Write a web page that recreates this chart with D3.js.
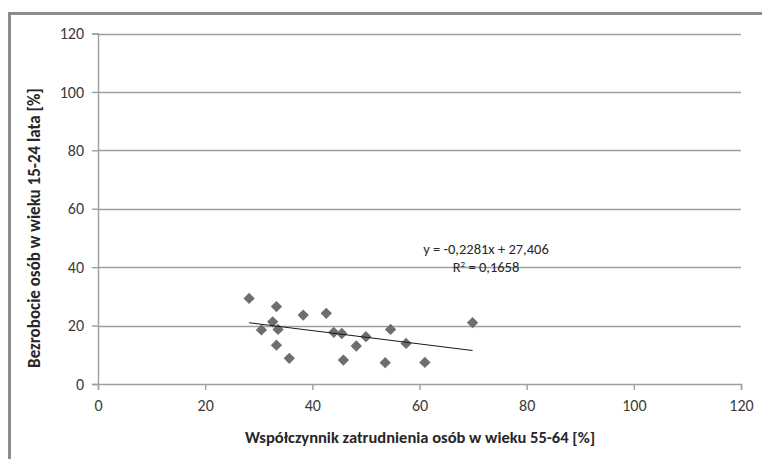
<!DOCTYPE html>
<html>
<head>
<meta charset="utf-8">
<script src="https://cdn.jsdelivr.net/npm/d3@7"></script>
<style>
  html, body { margin: 0; padding: 0; background: #fff; }
  svg { display: block; }
  text { font-family: Carlito, Calibri, Lato, "Open Sans", sans-serif; }
</style>
</head>
<body>
<svg id="chart" width="762" height="459"></svg>
<script>
// Employment rate 55-64 [%] (x) vs youth unemployment 15-24 [%] (y)
const employment55_64 = [28.2, 33.3, 38.3, 42.6, 32.6, 30.5, 33.6, 33.3, 35.7, 44.0, 45.5, 48.2, 45.8, 50.0, 54.6, 57.5, 53.6, 61.0, 69.9];
const unemployment15_24 = [29.3, 26.5, 23.6, 24.2, 21.3, 18.5, 18.7, 13.3, 8.8, 17.7, 17.3, 13.0, 8.2, 16.2, 18.7, 13.9, 7.3, 7.4, 21.0];

// Linear trend y = a*x + b and its fit
const trendSlope = -0.2281;
const trendIntercept = 27.406;
const rSquared = 0.1658;

const xTicks = [0, 20, 40, 60, 80, 100, 120];
const yTicks = [0, 20, 40, 60, 80, 100, 120];

const xTitle = "Współczynnik zatrudnienia osób w wieku 55-64 [%]";
const yTitle = "Bezrobocie osób w wieku 15-24 lata [%]";

const svg = d3.select("#chart");
const W = 762, H = 459;
const plot = { left: 98, right: 741, top: 33.5, bottom: 384 };

// outer frame (only top and left edges fall inside the view)
svg.append("rect")
  .attr("x", 9.5).attr("y", 13.5)
  .attr("width", W + 20).attr("height", H + 20)
  .attr("fill", "#fff")
  .attr("stroke", "#8c8c8c").attr("stroke-width", 3);

const x = d3.scaleLinear().domain([0, 120]).range([plot.left, plot.right]);
const y = d3.scaleLinear().domain([0, 120]).range([plot.bottom, plot.top]);

const fmt = d3.formatLocale({ decimal: ",", thousands: " ", grouping: [3], currency: ["", ""] });

// horizontal gridlines
svg.append("g")
  .selectAll("line")
  .data(yTicks.filter(d => d > 0))
  .join("line")
  .attr("x1", plot.left).attr("x2", plot.right)
  .attr("y1", d => Math.round(y(d)) + 0.5).attr("y2", d => Math.round(y(d)) + 0.5)
  .attr("stroke", "#9e9e9e").attr("stroke-width", 1.4);

// y axis
const yAxis = d3.axisLeft(y).tickValues(yTicks).tickSize(6).tickPadding(8);
const gy = svg.append("g")
  .attr("transform", `translate(${plot.left},0)`)
  .call(yAxis);
gy.select(".domain").attr("stroke", "#9e9e9e").attr("stroke-width", 1.4);
gy.selectAll(".tick line").attr("stroke", "#9e9e9e").attr("stroke-width", 1.4);
gy.selectAll(".tick text")
  .attr("font-size", 16).attr("fill", "#3a3a3a")
  .style("font-family", "Carlito, Calibri, Lato, sans-serif");

// x axis
const xAxis = d3.axisBottom(x).tickValues(xTicks).tickSize(6).tickPadding(10);
const gx = svg.append("g")
  .attr("transform", `translate(0,${plot.bottom})`)
  .call(xAxis);
gx.select(".domain").attr("stroke", "#9e9e9e").attr("stroke-width", 1.4);
gx.selectAll(".tick line").attr("stroke", "#9e9e9e").attr("stroke-width", 1.4);
gx.selectAll(".tick text")
  .attr("font-size", 16).attr("fill", "#3a3a3a")
  .style("font-family", "Carlito, Calibri, Lato, sans-serif");

// data points
const points = employment55_64.map((v, i) => ({ x: v, y: unemployment15_24[i] }));
const diamond = d3.symbol().type(d3.symbolSquare).size(64);
svg.append("g")
  .selectAll("path")
  .data(points)
  .join("path")
  .attr("d", diamond)
  .attr("transform", d => `translate(${x(d.x)},${y(d.y)}) rotate(45)`)
  .attr("fill", "#6e6e6e");

// trend line across the data range
const xMin = d3.min(employment55_64), xMax = d3.max(employment55_64);
svg.append("line")
  .attr("x1", x(xMin)).attr("y1", y(trendSlope * xMin + trendIntercept))
  .attr("x2", x(xMax)).attr("y2", y(trendSlope * xMax + trendIntercept))
  .attr("stroke", "#1a1a1a").attr("stroke-width", 1);

// trend equation label
const eqText = `y = ${fmt.format(".4f")(trendSlope).replace("\u2212", "-")}x + ${fmt.format(".3f")(trendIntercept)}`;
svg.append("text")
  .attr("x", 486).attr("y", 254)
  .attr("text-anchor", "middle")
  .attr("font-size", 14.5).attr("fill", "#262626")
  .text(eqText);
const r2 = svg.append("text")
  .attr("x", 486).attr("y", 272)
  .attr("text-anchor", "middle")
  .attr("font-size", 14.5).attr("fill", "#262626");
r2.append("tspan").text("R");
r2.append("tspan").attr("dy", -5).attr("font-size", 9).text("2");
r2.append("tspan").attr("dy", 5).text(` = ${fmt.format(".4f")(rSquared)}`);

// axis titles
svg.append("text")
  .attr("x", 420).attr("y", 443)
  .attr("text-anchor", "middle")
  .attr("font-size", 16.5).attr("font-weight", "bold").attr("fill", "#262626")
  .text(xTitle);

svg.append("text")
  .attr("transform", `translate(40,228) rotate(-90)`)
  .attr("text-anchor", "middle")
  .attr("font-size", 17).attr("font-weight", "bold").attr("fill", "#262626")
  .text(yTitle);
</script>
</body>
</html>
